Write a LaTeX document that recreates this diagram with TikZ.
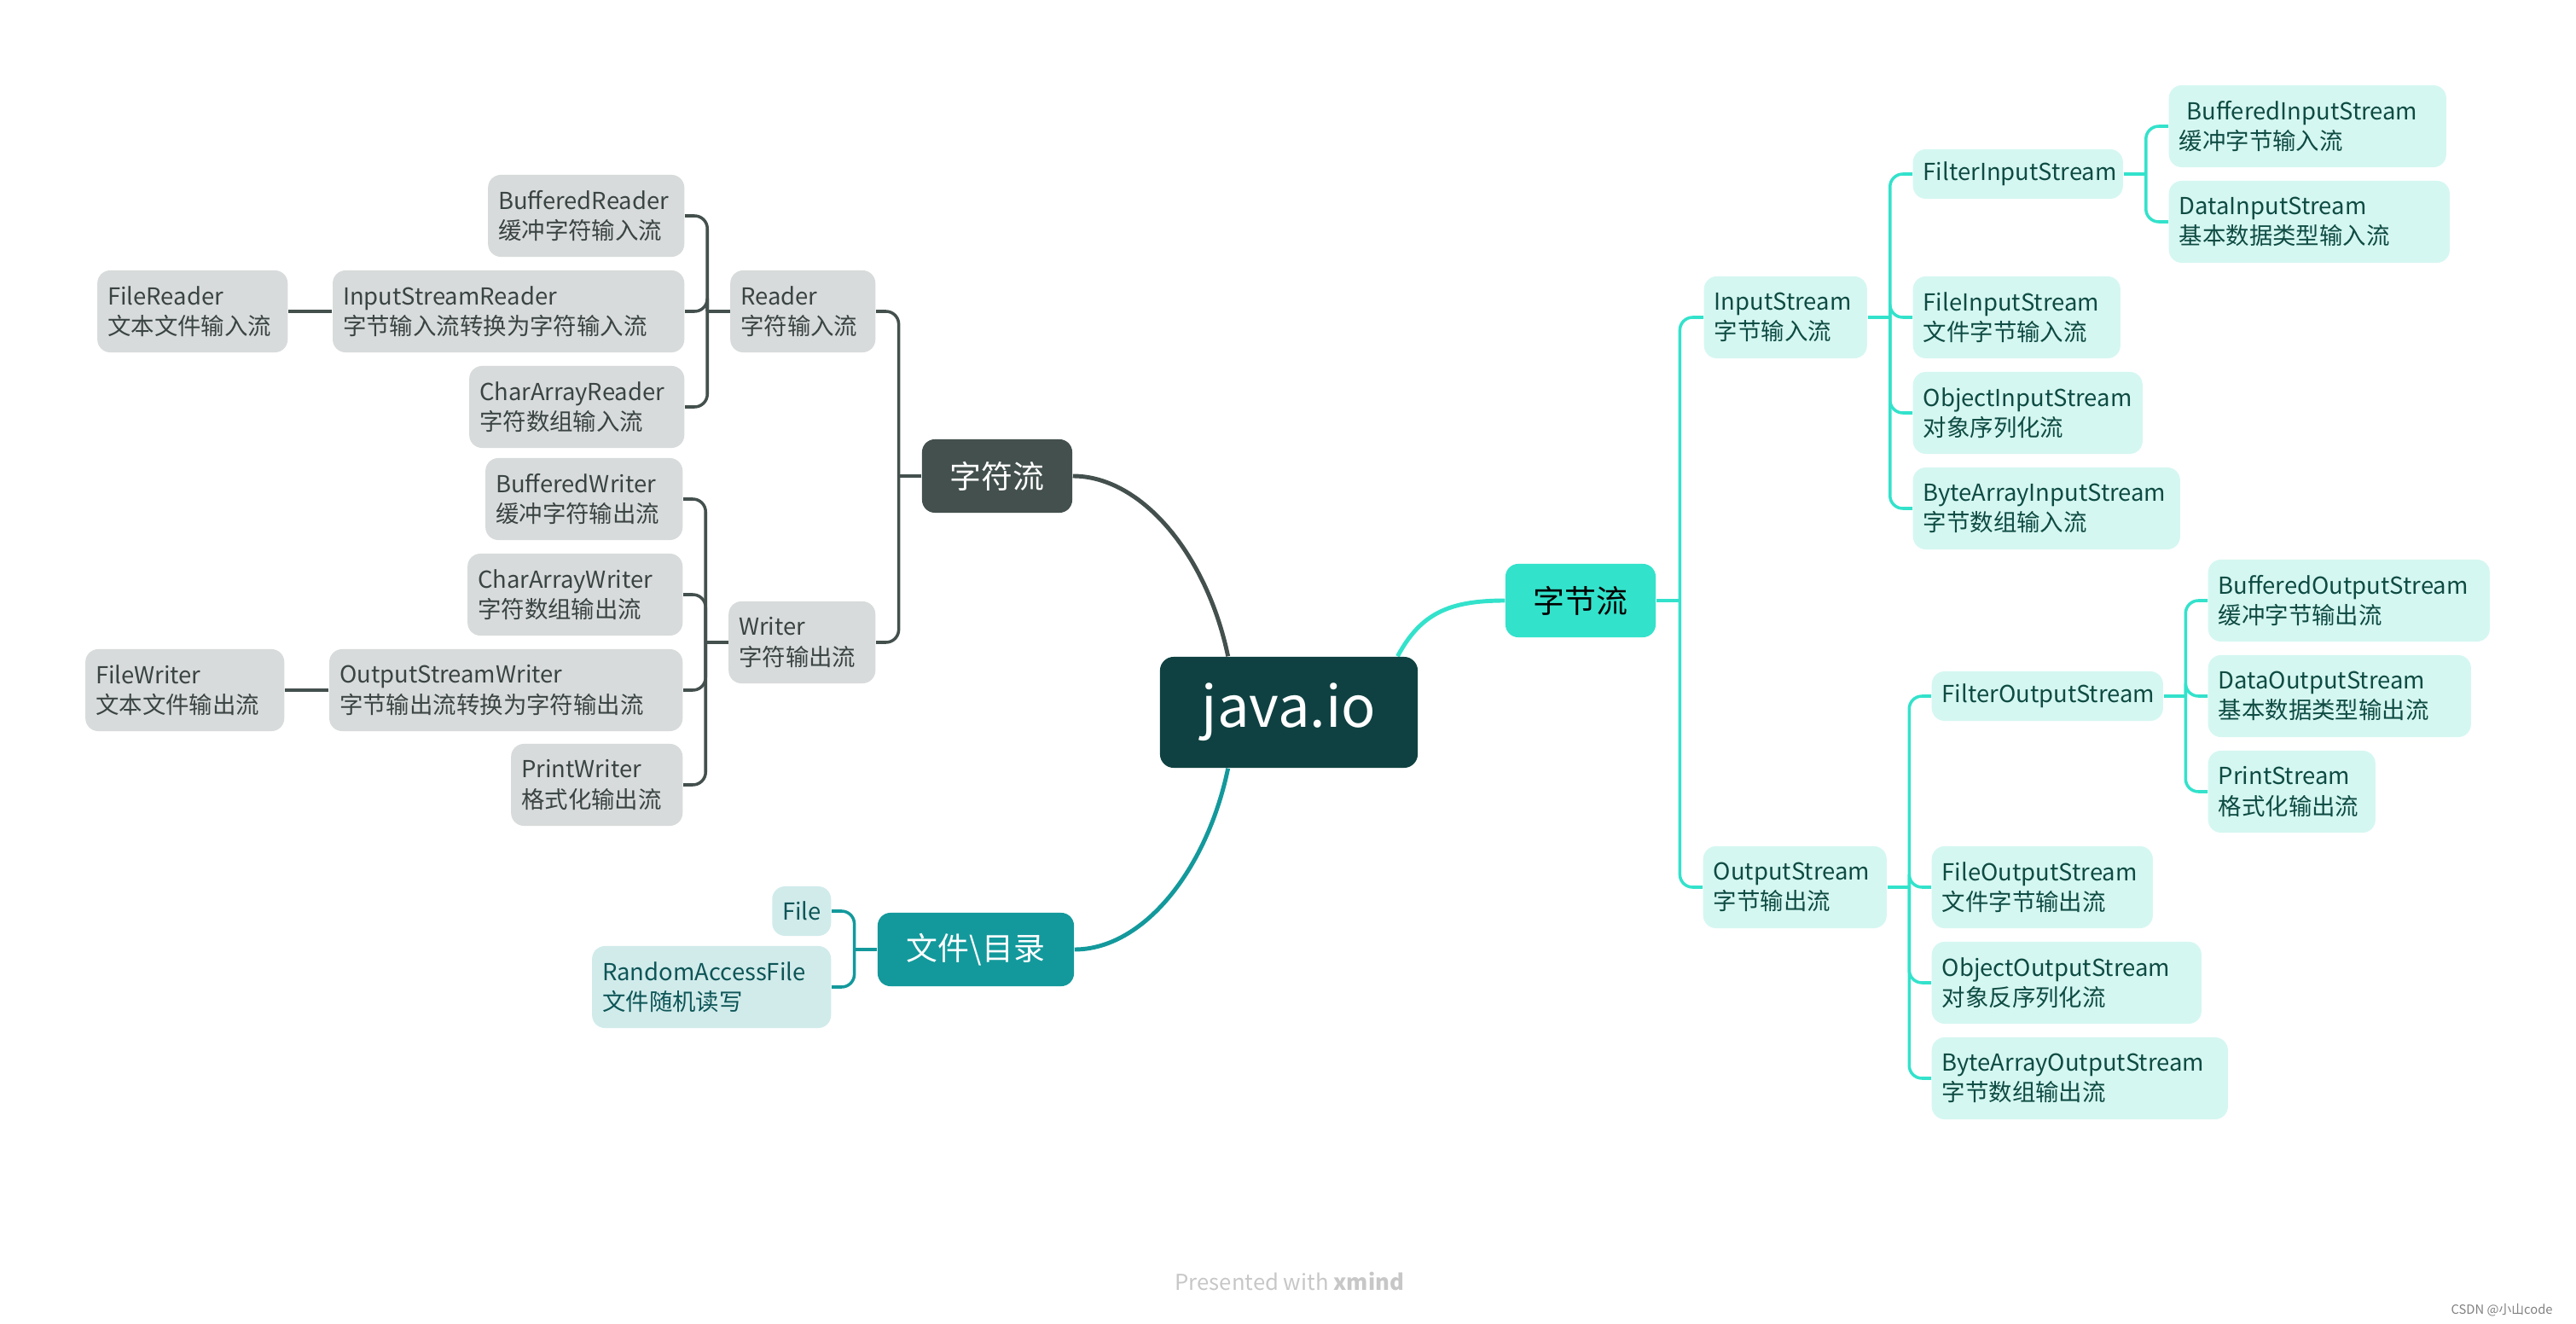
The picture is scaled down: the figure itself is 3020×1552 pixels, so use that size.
\documentclass[tikz,border=0pt]{standalone}
\usepackage{fontspec}
\setmainfont{Noto Sans CJK SC}
\usetikzlibrary{calc,backgrounds}
\definecolor{rootcol}{HTML}{0F4142}
\definecolor{charcol}{HTML}{43504D}
\definecolor{bytecol}{HTML}{33E2CB}
\definecolor{filecol}{HTML}{13999C}
\definecolor{charfill}{HTML}{D8DBDB}
\definecolor{chartext}{HTML}{3A4442}
\definecolor{bytefill}{HTML}{D5F7F1}
\definecolor{bytetext}{HTML}{0E4B43}
\definecolor{filefill}{HTML}{D1EBEB}
\definecolor{filetext}{HTML}{0E5557}
\tikzset{
  leaf/.style={
    rounded corners=0.15cm,
    inner xsep=0.12cm,
    minimum height=0.96cm,
    align=left,
    font=\fontsize{7.8}{10}\selectfont
  },
  shortleaf/.style={minimum height=0.58cm},
  wd/.style={text width=#1cm},
  charleaf/.style={leaf, fill=charfill, text=chartext},
  byteleaf/.style={leaf, fill=bytefill, text=bytetext},
  fileleaf/.style={leaf, fill=filefill, text=filetext},
  topic/.style={
    rounded corners=0.15cm,
    minimum width=1.76cm,
    minimum height=0.86cm,
    font=\fontsize{10.5}{13}\selectfont
  },
  rootnode/.style={
    rounded corners=0.16cm,
    fill=rootcol,
    text=white,
    minimum width=3.02cm,
    minimum height=1.3cm,
    font=\fontsize{19}{22}\selectfont
  },
  branch/.style={line width=1pt, rounded corners=0.15cm},
  mainline/.style={line width=1.4pt}
}

\begin{document}
\begin{tikzpicture}[x=0.01cm, y=-0.01cm]
  \useasboundingbox (0,0) rectangle (3020,1552);

  % centre and main topics
  \node[rootnode] (root) at (1511,835) {java.io};
  \node[topic, fill=charcol, text=white] (zfl) at (1169,558) {字符流};
  \node[topic, fill=bytecol, text=black] (zb) at (1853,704) {字节流};
  \node[topic, fill=filecol, text=white, minimum width=2.3cm] (wen) at (1144,1113) {文件\textbackslash 目录};

  % character streams
  \node[charleaf, wd=1.46, anchor=east] (rdr) at (1027,365) {Reader\\字符输入流};
  \node[charleaf, wd=2.06, anchor=east] (bufr) at (803,253) {BufferedReader\\缓冲字符输入流};
  \node[charleaf, wd=3.88, anchor=east] (isr) at (803,365) {InputStreamReader\\字节输入流转换为字符输入流};
  \node[charleaf, wd=1.99, anchor=east] (filr) at (338,365) {FileReader\\文本文件输入流};
  \node[charleaf, wd=2.28, anchor=east] (car) at (803,477) {CharArrayReader\\字符数组输入流};
  \node[charleaf, wd=1.48, anchor=east] (wrt) at (1027,753) {Writer\\字符输出流};
  \node[charleaf, wd=2.07, anchor=east] (bufw) at (801,585) {BufferedWriter\\缓冲字符输出流};
  \node[charleaf, wd=2.28, anchor=east] (caw) at (801,697) {CharArrayWriter\\字符数组输出流};
  \node[charleaf, wd=3.90, anchor=east] (osw) at (801,809) {OutputStreamWriter\\字节输出流转换为字符输出流};
  \node[charleaf, wd=2.09, anchor=east] (filw) at (334,809) {FileWriter\\文本文件输出流};
  \node[charleaf, wd=1.77, anchor=east] (prw) at (801,920) {PrintWriter\\格式化输出流};

  % files
  \node[fileleaf, shortleaf, wd=0.45, anchor=east] (file) at (975,1068) {File};
  \node[fileleaf, wd=2.56, anchor=east] (raf) at (975,1157) {RandomAccessFile\\文件随机读写};

  % byte streams
  \node[byteleaf, wd=1.67, anchor=west] (ins) at (1997,372) {InputStream\\字节输入流};
  \node[byteleaf, shortleaf, wd=2.22, anchor=west] (fis) at (2242,204) {FilterInputStream};
  \node[byteleaf, wd=3.01, anchor=west] (bis) at (2542,148) {\ BufferedInputStream\\缓冲字节输入流};
  \node[byteleaf, wd=3.05, anchor=west] (dis) at (2542,260) {DataInputStream\\基本数据类型输入流};
  \node[byteleaf, wd=2.19, anchor=west] (fileis) at (2242,372) {FileInputStream\\文件字节输入流};
  \node[byteleaf, wd=2.45, anchor=west] (ois) at (2242,484) {ObjectInputStream\\对象序列化流};
  \node[byteleaf, wd=2.89, anchor=west] (bais) at (2242,596) {ByteArrayInputStream\\字节数组输入流};
  \node[byteleaf, wd=1.91, anchor=west] (outs) at (1996,1040) {OutputStream\\字节输出流};
  \node[byteleaf, shortleaf, wd=2.47, anchor=west] (fos) at (2264,816) {FilterOutputStream};
  \node[byteleaf, wd=3.06, anchor=west] (bos) at (2588,704) {BufferedOutputStream\\缓冲字节输出流};
  \node[byteleaf, wd=2.84, anchor=west] (dos) at (2588,816) {DataOutputStream\\基本数据类型输出流};
  \node[byteleaf, wd=1.72, anchor=west] (ps) at (2588,928) {PrintStream\\格式化输出流};
  \node[byteleaf, wd=2.35, anchor=west] (fileos) at (2264,1040) {FileOutputStream\\文件字节输出流};
  \node[byteleaf, wd=2.92, anchor=west] (oos) at (2264,1152) {ObjectOutputStream\\对象反序列化流};
  \node[byteleaf, wd=3.23, anchor=west] (baos) at (2264,1264) {ByteArrayOutputStream\\字节数组输出流};

  % junctions
  \coordinate (zj) at ($(zfl.west)!0.5!(zfl.west -| rdr.east)$);
  \coordinate (rj) at ($(rdr.west)!0.5!(rdr.west -| isr.east)$);
  \coordinate (wj) at ($(wrt.west)!0.5!(wrt.west -| osw.east)$);
  \coordinate (fj) at ($(wen.west)!0.5!(wen.west -| file.east)$);
  \coordinate (bj) at ($(zb.east)!0.5!(zb.east -| ins.west)$);
  \coordinate (ij) at ($(ins.east)!0.5!(ins.east -| fis.west)$);
  \coordinate (fij) at ($(fis.east)!0.5!(fis.east -| bis.west)$);
  \coordinate (oj) at ($(outs.east)!0.5!(outs.east -| fos.west)$);
  \coordinate (foj) at ($(fos.east)!0.5!(fos.east -| bos.west)$);
  \coordinate (jtl) at ($(root.north west)!0.265!(root.north east)$);
  \coordinate (jtr) at ($(root.north west)!0.92!(root.north east)$);
  \coordinate (jbl) at ($(root.south west)!0.265!(root.south east)$);

  \begin{scope}[on background layer]
    % curves from the centre
    \draw[mainline, charcol] (zfl.east) .. controls +(80,0) and +(-25,-120) .. (jtl);
    \draw[mainline, filecol] (wen.east) .. controls +(80,0) and +(-25,120) .. (jbl);
    \draw[mainline, bytecol] (jtr) .. controls +(27,-50) and +(-66,0) .. (zb.west);

    % brackets
    \draw[branch, charcol] (zfl.west) -- (zj);
    \foreach \c in {rdr,wrt}
      \draw[branch, charcol] (zj) |- (\c.east);
    \draw[branch, charcol] (rdr.west) -- (rj);
    \foreach \c in {bufr,isr,car}
      \draw[branch, charcol] (rj) |- (\c.east);
    \draw[branch, charcol] (wrt.west) -- (wj);
    \foreach \c in {bufw,caw,osw,prw}
      \draw[branch, charcol] (wj) |- (\c.east);
    \draw[branch, charcol] (isr.west) -- (filr.east);
    \draw[branch, charcol] (osw.west) -- (filw.east);

    \draw[branch, filecol] (wen.west) -- (fj);
    \foreach \c in {file,raf}
      \draw[branch, filecol] (fj) |- (\c.east);

    \draw[branch, bytecol] (zb.east) -- (bj);
    \foreach \c in {ins,outs}
      \draw[branch, bytecol] (bj) |- (\c.west);
    \draw[branch, bytecol] (ins.east) -- (ij);
    \foreach \c in {fis,fileis,ois,bais}
      \draw[branch, bytecol] (ij) |- (\c.west);
    \draw[branch, bytecol] (fis.east) -- (fij);
    \foreach \c in {bis,dis}
      \draw[branch, bytecol] (fij) |- (\c.west);
    \draw[branch, bytecol] (outs.east) -- (oj);
    \foreach \c in {fos,fileos,oos,baos}
      \draw[branch, bytecol] (oj) |- (\c.west);
    \draw[branch, bytecol] (fos.east) -- (foj);
    \foreach \c in {bos,dos,ps}
      \draw[branch, bytecol] (foj) |- (\c.west);
  \end{scope}

  % footer
  \node[text=black!22, font=\fontsize{7.3}{9}\selectfont] (wm) at (1512,1502) {Presented with \textbf{xmind}};
  \node[text=black!50, font=\fontsize{4.2}{5}\selectfont, anchor=east] (csdn) at (3005,1536) {CSDN @小山code};
\end{tikzpicture}
\end{document}
